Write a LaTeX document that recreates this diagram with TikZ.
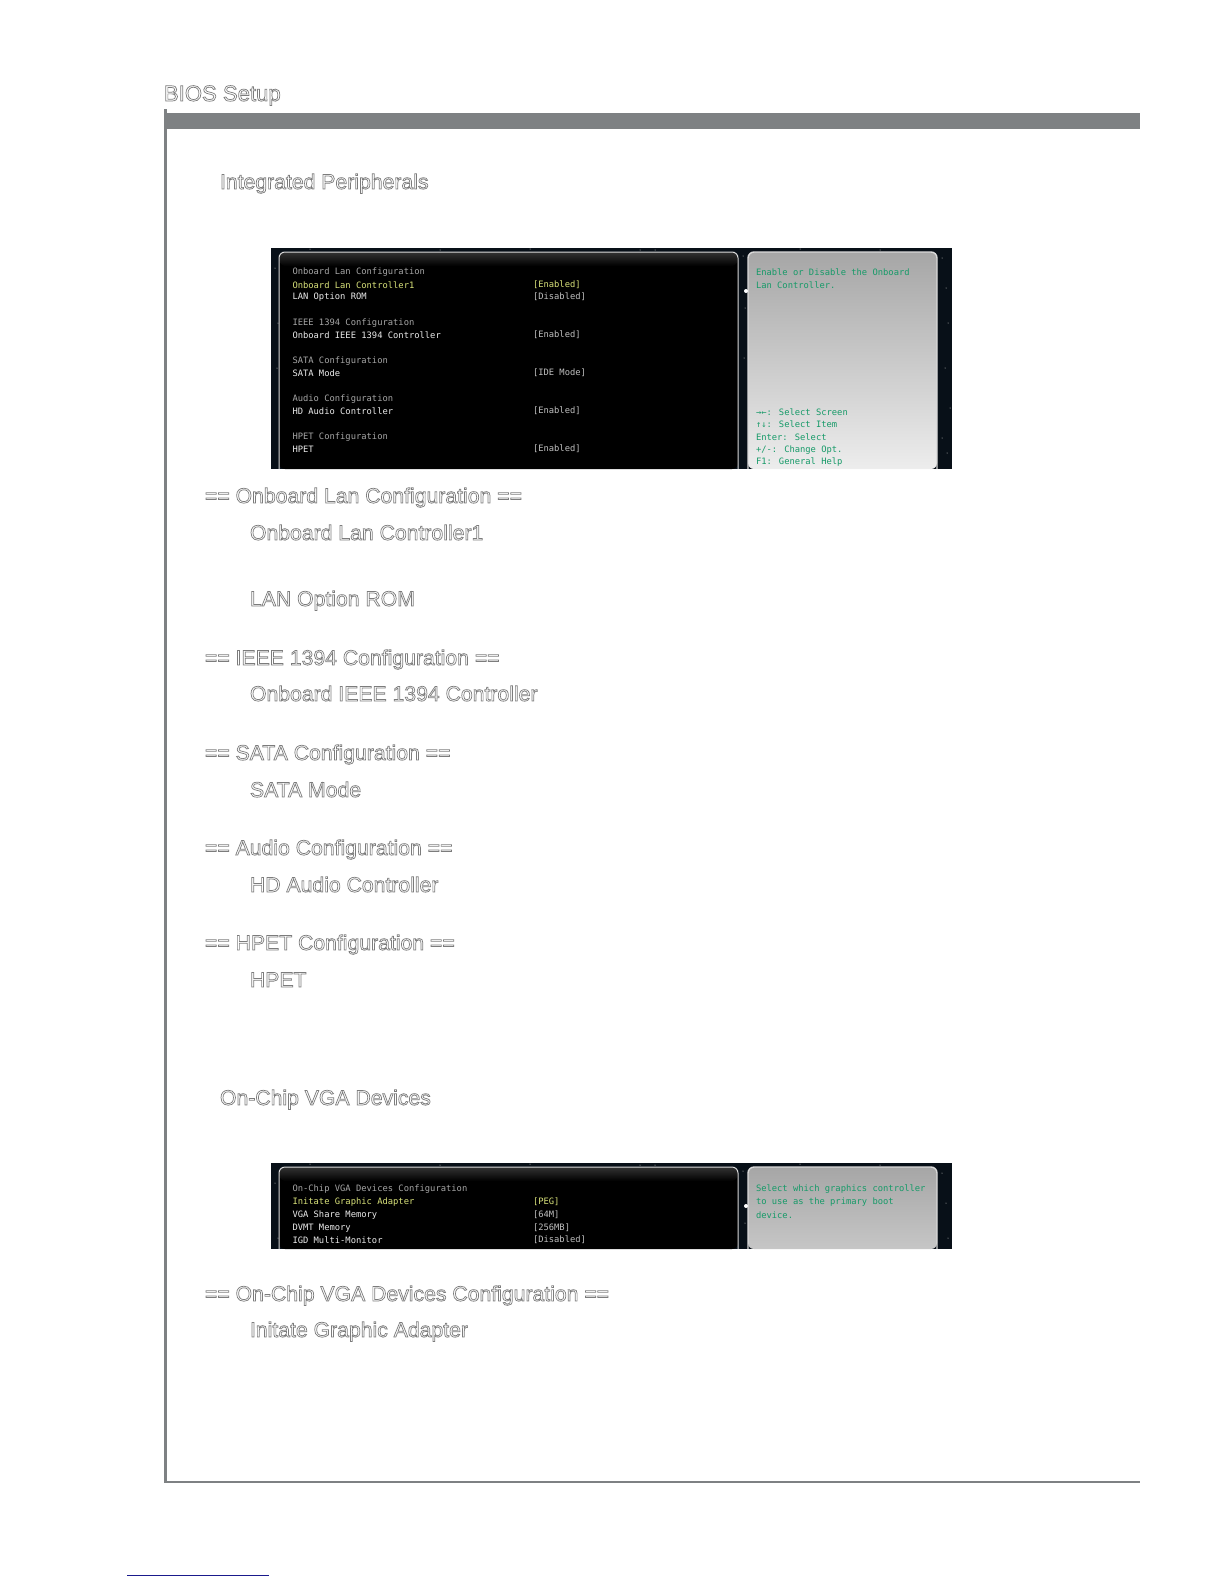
\documentclass[tikz,border=0pt]{standalone}
\usepackage{fontspec}
\setmainfont{Liberation Sans}
\newfontfamily\biosfont{DejaVu Sans Mono}

\definecolor{rulegray}{HTML}{7E8183}
\definecolor{headgray}{HTML}{7C7C7C}
\definecolor{skyblue}{HTML}{081018}
\definecolor{biosgray}{HTML}{A6A6A6}
\definecolor{biospick}{HTML}{D9E27A}
\definecolor{biosval}{HTML}{C0C0C0}
\definecolor{biosgreen}{HTML}{169A68}
\definecolor{linkblue}{HTML}{1A1A8C}

% hollow letters, as the page prints them
\newcommand{\hollow}[1]{\special{pdf:code 1 Tr 0.36 w}#1\special{pdf:code 0 Tr}}

\tikzset{
  title/.style={anchor=base west, inner sep=0, outer sep=0, text=headgray, font=\fontsize{11.05bp}{13bp}\selectfont},
  item/.style={anchor=base west, inner sep=0, outer sep=0, text=headgray, font=\fontsize{10.6bp}{13bp}\selectfont},
  bios/.style={anchor=west, inner sep=0, outer sep=0, yshift=-0.4bp, font=\biosfont\fontsize{4.4bp}{5bp}\selectfont},
  head/.style={bios, text=biosgray},
  row/.style={bios, text=white!92!black},
  pick/.style={bios, text=biospick},
  val/.style={bios, text=biosval},
  help/.style={bios, text=biosgreen},
}

\begin{document}
\begin{tikzpicture}[x=0.5bp,y=-0.5bp]
\useasboundingbox (0,0) rectangle (1224,1584);

% page frame
\fill[rulegray] (164,109) rectangle (167,1483);
\fill[rulegray] (164,113) rectangle (1140,129);
\fill[rulegray] (164,1481) rectangle (1140,1483);
\fill[linkblue] (127,1574.6) rectangle (269,1575.6);

% screens
\foreach \ytop/\ybot/\cbot in {248/469/EDEDED,1163/1249/C6C6C6}{
  \definecolor{panelbot}{HTML}{\cbot}
  \fill[skyblue] (271,\ytop) rectangle (952,\ybot);
  \pgfmathsetmacro{\ypanel}{\ytop+4}
  \pgfmathsetmacro{\yfade}{\ytop+18}
  \fill[black, rounded corners=3] (279,\ybot) -- (279,\ypanel) -- (738,\ypanel) -- (738,\ybot) -- cycle;
  \shade[top color=black!80!white, bottom color=black, rounded corners=3] (279.5,\yfade) -- (279.5,\ypanel) -- (737.5,\ypanel) -- (737.5,\yfade) -- cycle;
  \draw[white!85!black, line width=0.5bp, rounded corners=3] (279,\ybot) -- (279,\ypanel) -- (738,\ypanel) -- (738,\ybot);
  \shade[top color=biosgray, bottom color=panelbot, rounded corners=3] (748,\ybot) -- (748,\ypanel) -- (937,\ypanel) -- (937,\ybot) -- cycle;
  \draw[white!85!black, line width=0.7bp, rounded corners=3] (748,\ybot) -- (748,\ypanel) -- (937,\ypanel) -- (937,\ybot);
  \fill[white] (746,\ytop+43) circle (2);
  \foreach \sx/\sy in {275/20,278/75,277/120,310/1,440/2,530/1,655/2,743/8,745/60,744/110,942/10,946/40,948/75,945/120,950/160,942/190,947/205,640/2,800/1,880/2}{
    \ifdim \sy pt<\dimexpr\ybot pt-\ytop pt\relax
      \fill[white!80!black] (\sx,\ytop+\sy) circle (0.5);
    \fi
  }
}

% texts of the page
\node[title] (biossetup) at (164,101) {\hollow{BIOS Setup}};
\node[title, font=\fontsize{10.6bp}{13bp}\selectfont] (integrated) at (220,189) {\hollow{Integrated Peripherals}};
\node[item] (lanconf) at (205,503) {\hollow{== Onboard Lan Configuration ==}};
\node[item] (lanctrl) at (250,540) {\hollow{Onboard Lan Controller1}};
\node[item] (lanrom) at (250,606) {\hollow{LAN Option ROM}};
\node[item] (ieeeconf) at (205,665) {\hollow{== IEEE 1394 Configuration ==}};
\node[item] (ieeectrl) at (250,701) {\hollow{Onboard IEEE 1394 Controller}};
\node[item] (sataconf) at (205,760) {\hollow{== SATA Configuration ==}};
\node[item] (satamode) at (250,797) {\hollow{SATA Mode}};
\node[item] (audioconf) at (205,855) {\hollow{== Audio Configuration ==}};
\node[item] (audioctrl) at (250,892) {\hollow{HD Audio Controller}};
\node[item] (hpetconf) at (205,950) {\hollow{== HPET Configuration ==}};
\node[item] (hpet) at (250,987) {\hollow{HPET}};
\node[title, font=\fontsize{10.6bp}{13bp}\selectfont] (onchip) at (220,1105) {\hollow{On-Chip VGA Devices}};
\node[item] (vgaconf) at (205,1301) {\hollow{== On-Chip VGA Devices Configuration ==}};
\node[item] (vgaadapter) at (250,1337) {\hollow{Initate Graphic Adapter}};

% first screen
\node[head] (a1) at (292.5,271) {Onboard Lan Configuration};
\node[pick] (a2) at (292.5,284) {Onboard Lan Controller1};
\node[pick] (a2v) at (533,284) {[Enabled]};
\node[row] (a3) at (292.5,296) {LAN Option ROM};
\node[val] (a3v) at (533,296) {[Disabled]};
\node[head] (a4) at (292.5,322) {IEEE 1394 Configuration};
\node[row] (a5) at (292.5,334) {Onboard IEEE 1394 Controller};
\node[val] (a5v) at (533,334) {[Enabled]};
\node[head] (a6) at (292.5,360) {SATA Configuration};
\node[row] (a7) at (292.5,372) {SATA Mode};
\node[val] (a7v) at (533,372) {[IDE Mode]};
\node[head] (a8) at (292.5,398) {Audio Configuration};
\node[row] (a9) at (292.5,410) {HD Audio Controller};
\node[val] (a9v) at (533,410) {[Enabled]};
\node[head] (a10) at (292.5,436) {HPET Configuration};
\node[row] (a11) at (292.5,448) {HPET};
\node[val] (a11v) at (533,448) {[Enabled]};
\node[help] (b1) at (756,271) {Enable or Disable the Onboard};
\node[help] (b2) at (756,284) {Lan Controller.};
\node[help] (b3) at (756,411) {→←: Select Screen};
\node[help] (b4) at (756,423) {↑↓: Select Item};
\node[help] (b5) at (756,436) {Enter: Select};
\node[help] (b6) at (756,449) {+/-: Change Opt.};
\node[help] (b7) at (756,461) {F1: General Help};

% second screen
\node[head] (c1) at (292.5,1188) {On-Chip VGA Devices Configuration};
\node[pick] (c2) at (292.5,1201) {Initate Graphic Adapter};
\node[pick] (c2v) at (533,1201) {[PEG]};
\node[row] (c3) at (292.5,1214) {VGA Share Memory};
\node[val] (c3v) at (533,1214) {[64M]};
\node[row] (c4) at (292.5,1227) {DVMT Memory};
\node[val] (c4v) at (533,1227) {[256MB]};
\node[row] (c5) at (292.5,1239) {IGD Multi-Monitor};
\node[val] (c5v) at (533,1239) {[Disabled]};
\node[help] (d1) at (756,1188) {Select which graphics controller};
\node[help] (d2) at (756,1201) {to use as the primary boot};
\node[help] (d3) at (756,1214) {device.};
\end{tikzpicture}
\end{document}
